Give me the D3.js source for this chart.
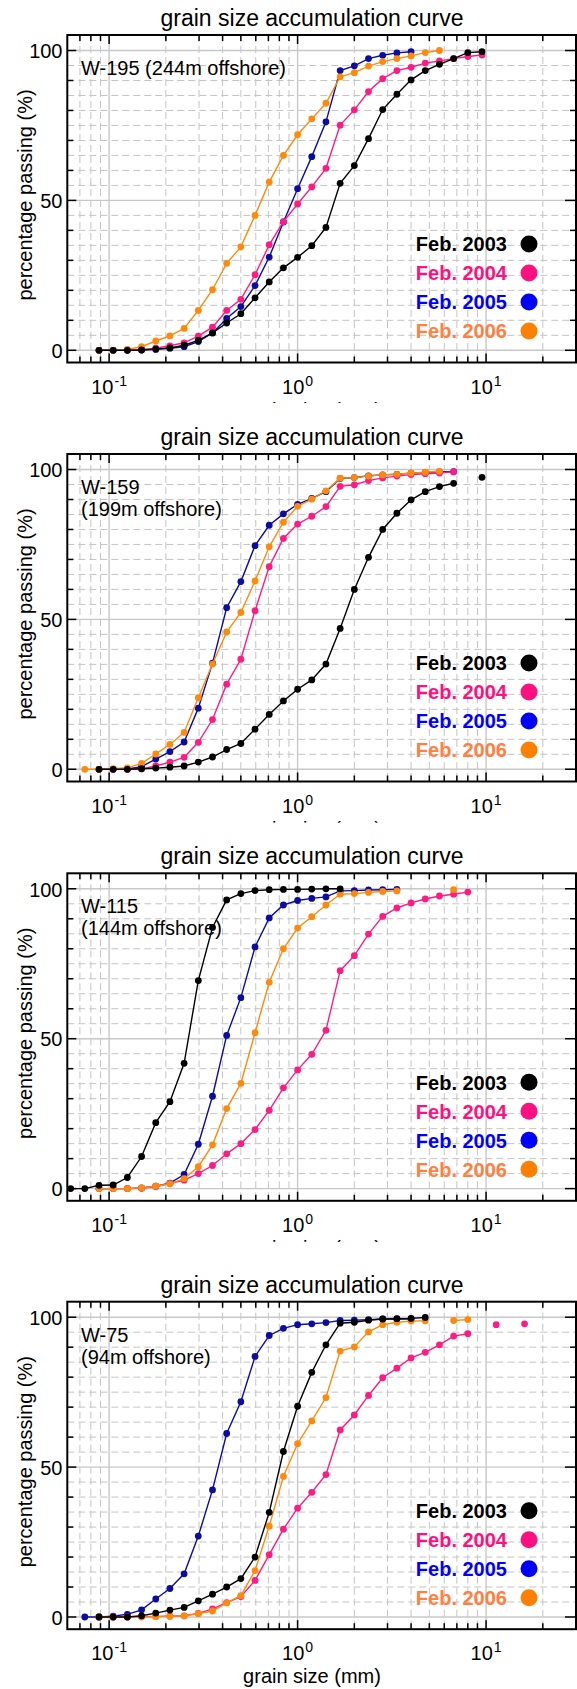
<!DOCTYPE html>
<html><head><meta charset="utf-8">
<script src="https://cdn.jsdelivr.net/npm/d3@7"></script>
<style>
body{margin:0;background:#fff}
svg{display:block}
text{font-family:"Liberation Sans",Arial,Helvetica,sans-serif}
</style>
</head><body>
<svg id="chart" width="577" height="1689"></svg>
<script>
// sieve sizes (mm), quarter-phi steps
const sizes = [0.0625,0.0743,0.0884,0.1051,0.125,0.1487,0.1768,0.2102,0.25,0.2973,0.3536,0.4204,0.5,0.5946,0.7071,0.8409,1,1.189,1.414,1.682,2,2.378,2.828,3.364,4,4.757,5.657,6.727,8,9.514,11.31,13.45,16];

const seriesNames = ["Feb. 2003","Feb. 2004","Feb. 2005","Feb. 2006"];
const panelTitle = "grain size accumulation curve";
const yTickValues = [0,50,100];
const xMajorLabels = [{v:0.1,e:"-1"},{v:1,e:"0"},{v:10,e:"1"}];

// W-195
const w195_2003 = [null,null,0,0,0,0.1,0.4,0.8,1.7,3.3,5.8,9.1,12.2,17.5,22.8,27.5,31,34.9,41,55.7,61.6,70.6,80.3,85.4,90.2,93.3,95.4,97.3,99.3,99.6,null,null,null];
const w195_2004 = [null,null,0,0,0.1,0.3,0.7,1.5,2.5,4.7,7.7,13.3,17,25.2,35.2,42.9,48.8,54.5,60.7,75.1,80.2,86.3,90.6,93.3,94.4,95.8,96.5,97.3,98,98.5,null,null,null];
const w195_2005 = [null,null,0,0,0,0.1,0.3,0.7,1.2,2.9,5.8,10.6,14.6,21.6,31.1,42.8,53.9,64.6,76.2,93.3,94.9,97.3,98.4,99.2,99.6,null,null,null,null,null,null,null,null];
const w195_2006 = [null,null,0,0,0.3,1.2,3.1,4.8,7.3,13.3,20.2,29,34.5,45,56.1,65,71.9,77.2,82.4,91.2,92.6,94.8,96.3,97.3,98.2,99.3,100,null,null,null,null,null,null];
// W-159
const w159_2003 = [null,null,0,0,0,0.2,0.4,0.7,1.1,2.4,4.1,6.6,8.6,13.4,18.3,22.8,26.7,29.8,35.1,47,60,70.7,80,85.4,89.9,92.6,94.3,95.4,null,97.4,null,null,null];
const w159_2004 = [null,null,0,0,0,0.1,1.1,2.4,4,9,16.6,28.4,36.7,52.9,67.6,77,81.8,84.4,87.6,94.4,94.9,96.3,97.2,97.8,98.3,98.6,98.8,99.2,null,null,null,null,null];
const w159_2005 = [null,null,0,0,0.1,0.9,3.4,5.9,9.1,20.4,35.4,53.9,62.6,74.6,81.4,85.2,88.4,90.4,92.6,97,97.3,97.9,98.2,98.4,98.8,99,99.2,99.3,null,null,null,null,null];
const w159_2006 = [null,0,0,0.2,0.5,2,5.1,8.3,12.3,23.9,35.1,45.8,52.3,62.8,74.2,82.4,87.7,90.1,92.9,97.1,97.3,97.8,98.2,98.4,98.8,99.1,99.4,null,null,null,null,null,null];
// W-115
const w115_2003 = [0,0,1.1,1.2,3.7,10.7,22,29,41.8,69.4,87.1,96.3,98.4,99.4,99.7,99.8,99.8,99.9,100,100,null,null,null,null,null,null,null,null,null,null,null,null,null];
const w115_2004 = [null,null,0,0,0,0.1,0.7,1.7,2.8,5,7.7,11.6,15,19.7,26.1,33.6,39.6,44.8,52.8,72.7,77.7,84.9,90.8,93.6,95.3,96.6,97.6,98.2,98.9,null,null,null,null];
const w115_2005 = [null,null,0,0,0,0.2,0.8,1.8,4.7,14.8,30.8,51.1,63.7,80.6,90.3,94.6,96.1,96.8,97.3,99.3,99.4,99.6,99.7,99.8,null,null,null,null,null,null,null,null,null];
const w115_2006 = [null,null,0,0,0,0.2,0.8,1.6,3.3,7.3,14.6,26.7,35.1,52,68.8,80,86.9,90.7,94.6,98.2,98.4,98.8,99.1,99.3,null,null,null,99.7,null,null,null,null,null];
// W-75
const w75_2003 = [null,null,0,0,0,0.4,1.3,2.3,3.2,5.4,7.6,10,12.8,20,34.9,55.2,70.3,81.6,90.8,98,98.3,99,99.4,99.5,99.6,99.9,null,null,null,null,null,null,null];
const w75_2004 = [null,null,0,0,0,0.1,0.2,0.3,0.4,1.2,2.7,4.8,6.8,12.2,20.8,29.3,36.3,41.6,47.5,62.4,67.4,73.9,79.8,83,86.4,88.3,90.8,93.7,94.5,null,97.5,null,97.8];
const w75_2005 = [null,0,0,0.3,0.9,2.4,6,9.5,14.4,27,42.4,61.2,71.8,86.9,93.9,96.3,97.5,97.8,98.2,98.9,99,99.2,99.4,99.4,99.4,null,null,null,null,null,null,null,null];
const w75_2006 = [null,null,0,0,0,0,0.1,0.2,0.4,1.1,2,4.7,7.1,15.5,30.3,46.9,57.8,65.4,73.2,88.7,90.1,95.1,97.5,98.3,98.7,98.8,null,98.9,99.2,null,null,null,null];

const lineColors = ["#000000","#ff1a84","#0c0ca0","#ff8a0a"];
const legendTextColors = ["#000000","#ff1080","#0000ff","#ff8040"];
const legendDotColors = ["#000000","#ff1080","#0000ff","#ff8000"];

const panels = [
  {top:35,    labels:["W-195 (244m offshore)"], data:[w195_2003,w195_2004,w195_2005,w195_2006], clip:40.6},
  {top:454,   labels:["W-159","(199m offshore)"], data:[w159_2003,w159_2004,w159_2005,w159_2006], clip:41.2},
  {top:873.3, labels:["W-115","(144m offshore)"], data:[w115_2003,w115_2004,w115_2005,w115_2006], clip:41.2},
  {top:1301.7,labels:["W-75","(94m offshore)"], data:[w75_2003,w75_2004,w75_2005,w75_2006], clip:null}
];

const L = 67.3, R = 576, H = 327.5;
const svg = d3.select("#chart");
const defs = svg.append("defs");
const drawOrder = [2,1,3,0];

panels.forEach((p, pi) => {
  const top = p.top, bottom = top + H;
  const x = d3.scaleLog().domain([0.06, 30]).range([L, R]);
  const y = d3.scaleLinear().domain([-4.07, 105.17]).range([bottom, top]);
  let g = svg.append("g");
  if (p.clip !== null) {
    defs.append("clipPath").attr("id","pc"+pi).append("rect")
      .attr("x",0).attr("y",top-40).attr("width",577).attr("height",H+40+p.clip);
    g.attr("clip-path","url(#pc"+pi+")");
  }
  const xt = x.ticks();
  const isMajor = v => Math.abs(Math.log10(v) - Math.round(Math.log10(v))) < 1e-6;
  const xMajor = xt.filter(isMajor);
  const xMinor = xt.filter(v => !isMajor(v) && x(v) > L+1 && x(v) < R-1);
  const yMinorGrid = d3.range(5,100,5).filter(v => v !== 50);
  const yMinorTicks = d3.range(10,100,10).filter(v => v !== 50);

  // grid
  const grid = g.append("g");
  grid.selectAll(".vx").data(xMinor).join("line")
    .attr("x1",d=>x(d)).attr("x2",d=>x(d)).attr("y1",top).attr("y2",bottom)
    .attr("stroke","#c4c4c4").attr("stroke-width",1).attr("stroke-dasharray","7,4");
  grid.selectAll(".hy").data(yMinorGrid).join("line")
    .attr("x1",L).attr("x2",R).attr("y1",d=>y(d)).attr("y2",d=>y(d))
    .attr("stroke","#c4c4c4").attr("stroke-width",1).attr("stroke-dasharray","7,4");
  grid.selectAll(".vX").data(xMajor).join("line")
    .attr("x1",d=>x(d)).attr("x2",d=>x(d)).attr("y1",top).attr("y2",bottom)
    .attr("stroke","#c8c8c8").attr("stroke-width",1.4);
  grid.selectAll(".hY").data(yTickValues).join("line")
    .attr("x1",L).attr("x2",R).attr("y1",d=>y(d)).attr("y2",d=>y(d))
    .attr("stroke","#c8c8c8").attr("stroke-width",1.4);

  // ticks
  const tk = g.append("g").attr("stroke","#000").attr("stroke-width",1.5);
  xMajor.forEach(v => {
    tk.append("line").attr("x1",x(v)).attr("x2",x(v)).attr("y1",bottom).attr("y2",bottom-9);
    tk.append("line").attr("x1",x(v)).attr("x2",x(v)).attr("y1",top).attr("y2",top+9);
  });
  xMinor.forEach(v => {
    tk.append("line").attr("x1",x(v)).attr("x2",x(v)).attr("y1",bottom).attr("y2",bottom-6);
    tk.append("line").attr("x1",x(v)).attr("x2",x(v)).attr("y1",top).attr("y2",top+6);
  });
  yTickValues.forEach(v => {
    tk.append("line").attr("x1",L).attr("x2",L+9).attr("y1",y(v)).attr("y2",y(v));
    tk.append("line").attr("x1",R).attr("x2",R-11).attr("y1",y(v)).attr("y2",y(v));
  });
  yMinorTicks.forEach(v => {
    tk.append("line").attr("x1",L).attr("x2",L+6).attr("y1",y(v)).attr("y2",y(v));
    tk.append("line").attr("x1",R).attr("x2",R-6).attr("y1",y(v)).attr("y2",y(v));
  });

  // frame
  g.append("rect").attr("x",L).attr("y",top).attr("width",R-L).attr("height",H)
    .attr("fill","none").attr("stroke","#000").attr("stroke-width",2);

  // title
  g.append("text").attr("x",312).attr("y",top-9).attr("text-anchor","middle")
    .attr("font-size",23).text(panelTitle);

  // y tick labels
  g.selectAll(".yl").data(yTickValues).join("text")
    .attr("x",62.5).attr("y",d=>y(d)+7.8).attr("text-anchor","end")
    .attr("font-size",20).text(d=>d);

  // x tick labels
  xMajorLabels.forEach(t => {
    const tx = g.append("text").attr("x",x(t.v)).attr("y",bottom+31)
      .attr("text-anchor","middle").attr("font-size",20);
    tx.append("tspan").text("10");
    tx.append("tspan").attr("dy",-8).attr("font-size",14).attr("dx",1).text(t.e);
  });

  // axis titles
  g.append("text").attr("transform",`translate(32,${top+160}) rotate(-90)`)
    .attr("text-anchor","middle").attr("font-size",20).text("percentage passing (%)");
  g.append("text").attr("x",312).attr("y",bottom+54).attr("text-anchor","middle")
    .attr("font-size",20).text("grain size (mm)");

  // station label
  p.labels.forEach((s,i) => {
    g.append("text").attr("x",81).attr("y",top+40+i*22).attr("font-size",20).text(s);
  });

  // series
  const line = d3.line().defined(d => d[1] !== null).x(d => x(d[0])).y(d => y(d[1]));
  drawOrder.forEach(si => {
    const pts = sizes.map((s,i) => [s, p.data[si][i]]);
    const sg = g.append("g");
    sg.append("path").datum(pts).attr("d",line).attr("fill","none")
      .attr("stroke",lineColors[si]).attr("stroke-width",1.4);
    sg.selectAll("circle").data(pts.filter(d => d[1] !== null)).join("circle")
      .attr("cx",d=>x(d[0])).attr("cy",d=>y(d[1])).attr("r",3.4).attr("fill",lineColors[si]);
  });

  // legend
  seriesNames.forEach((n,i) => {
    const cy = top + 209 + i*29;
    g.append("text").attr("x",507).attr("y",cy+7.2).attr("text-anchor","end")
      .attr("font-size",20).attr("font-weight","bold").attr("fill",legendTextColors[i]).text(n);
    g.append("circle").attr("cx",529).attr("cy",cy).attr("r",8.5).attr("fill",legendDotColors[i]);
  });
});
</script>
</body></html>
